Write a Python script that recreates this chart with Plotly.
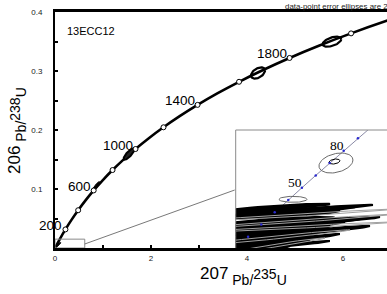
import numpy as np
import plotly.graph_objects as go

# ---------------- data ----------------
# Concordia reference curve (age in Ma, 207Pb/235U, 206Pb/238U)
conc_age = [0, 100, 200, 300, 400, 500, 600, 700, 800, 900, 1000, 1100, 1200,
            1300, 1400, 1500, 1600, 1700, 1800, 1900, 2000, 2100, 2200]
conc_r207 = [0.0, 0.10350, 0.21771, 0.34374, 0.48281, 0.63628, 0.80563, 0.99251,
             1.19873, 1.42630, 1.67741, 1.95452, 2.26030, 2.59774, 2.97009,
             3.38099, 3.83441, 4.33477, 4.88690, 5.49618, 6.16853, 6.91045, 7.72916]
conc_r206 = [0.0, 0.015633, 0.031511, 0.047637, 0.064016, 0.080650, 0.097544,
             0.114702, 0.132131, 0.149827, 0.167803, 0.186058, 0.204600, 0.223432,
             0.242560, 0.261985, 0.281716, 0.301752, 0.322100, 0.342770, 0.363760,
             0.385080, 0.406740]
marker_ages = [200, 400, 600, 800, 1000, 1200, 1400, 1600, 1800, 2000]
label_ages = [200, 600, 1000, 1400, 1800]

# Main-plot data-point error ellipses (2 sigma)
ell_r207 = [0.06, 0.85, 1.54, 4.23, 5.77]
ell_s207 = [0.06, 0.083, 0.11, 0.146, 0.194]
ell_r206 = [0.005, 0.104, 0.159, 0.2966, 0.3497]
ell_s206 = [0.0045, 0.0085, 0.0095, 0.0095, 0.0085]
ell_rho = [0.9, 0.9, 0.8, 0.45, 0.5]

# Inset concordia (Ma)
inset_age = [20, 30, 40, 50, 60, 70, 80, 90, 100, 110, 120]
inset_r207 = [0.019892, 0.029986, 0.040180, 0.050475, 0.060872, 0.071371,
              0.081975, 0.092683, 0.103497, 0.114419, 0.125446]
inset_r206 = [0.0031073, 0.0046646, 0.0062243, 0.0077864, 0.0093510, 0.010918,
              0.012487, 0.014059, 0.015633, 0.017210, 0.018789]
inset_dot_ages = [20, 30, 40, 50, 60, 70, 80, 90, 100]
inset_label_ages = [50, 80]

# Inset labelled ellipses
ins_r207 = [0.05405, 0.08677, 0.08563]
ins_s207 = [0.01065, 0.01293, 0.00418]
ins_r206 = [0.007877, 0.012492, 0.012683]
ins_s206 = [0.00038, 0.00127, 0.00032]
ins_rho = [0.0, 0.3, 0.3]

# Inset: discordant, high-error analyses
dis_r207 = [0.03279, 0.04915, 0.05942, 0.0423, 0.0366, 0.05942, 0.05181, 0.0442,
            0.05942, 0.0385, 0.048, 0.03279, 0.0404, 0.02899, 0.0366, 0.02328,
            0.03089, 0.01948, 0.03279, 0.01567,
            0.02899, 0.02518, 0.03469, 0.02138, 0.01757]
dis_s207 = [0.04945, 0.0658, 0.0761, 0.05896, 0.05325, 0.0761, 0.06847, 0.06086,
            0.0761, 0.05515, 0.06466, 0.04945, 0.05706, 0.04564, 0.05325, 0.03994,
            0.04755, 0.03614, 0.04945, 0.03233,
            0.04564, 0.04184, 0.05135, 0.03804, 0.03423]
dis_r206 = [0.006705, 0.006386, 0.005885, 0.006114, 0.005948, 0.005122, 0.004715,
            0.004766, 0.004359, 0.004442, 0.003406, 0.00399, 0.003025, 0.003114,
            0.002402, 0.002681, 0.001766, 0.002287, 0.001754, 0.001932,
            0.003775, 0.002357, 0.004989, 0.003406, 0.001658]
dis_s206 = [0.000632, 0.000793, 0.000778, 0.00085, 0.000586, 0.000903, 0.00095,
            0.00072, 0.000654, 0.000672, 0.00111, 0.00071, 0.000972, 0.000794,
            0.001085, 0.000737, 0.001207, 0.000569, 0.00084, 0.000467,
            0.000596, 0.000517, 0.000641, 0.000496, 0.000477]
dis_rho = [0.915, 0.971, 0.981, 0.927, 0.759, 0.986, 0.963, 0.848, 0.972, 0.823,
           0.973, 0.698, 0.981, 0.768, 0.984, 0.724, 0.987, 0.742, 0.983, 0.578,
           0.768, 0.676, 0.804, 0.640, 0.600]
dis_group = ['k', 'k', 'g', 'k', 'k', 'g', 'k', 'k', 'g', 'k',
             'k', 'k', 'g', 'k', 'k', 'k', 'g', 'k', 'k', 'k',
             'k', 'k', 'k', 'k', 'k']

# zoom window drawn on the main plot
zoom_box = dict(x0=0.0, x1=0.62, y0=0.0, y1=0.015)
leader = dict(x0=0.62, y0=0.0068, x1=3.744, y1=0.0983)

# ---------------- layout geometry ----------------
W, H = 387, 294
L, R, T, B = 55, 0, 12, 46
PW, PH = W - L - R, H - T - B


def px(xp):
    return (xp - L) / PW


def py(yp):
    return (H - B - yp) / PH


def ellipse(cx, sx, cy, sy, rho, n=72):
    t = np.linspace(0, 2 * np.pi, n)
    x = cx + sx * np.cos(t)
    y = cy + sy * (rho * np.cos(t) + np.sqrt(1 - rho ** 2) * np.sin(t))
    return x, y


fig = go.Figure()

# main concordia
fig.add_trace(go.Scatter(x=conc_r207, y=conc_r206, mode='lines',
                         line=dict(color='black', width=2.6, shape='spline'),
                         hoverinfo='skip'))

# main ellipses
main_fill = ['black', 'black', '#222222', None, None]
main_lw = [1, 1, 2, 2.2, 2.2]
for i in range(len(ell_r207)):
    ex, ey = ellipse(ell_r207[i], ell_s207[i], ell_r206[i], ell_s206[i], ell_rho[i])
    if main_fill[i]:
        fig.add_trace(go.Scatter(x=ex, y=ey, mode='lines', fill='toself',
                                 fillcolor=main_fill[i],
                                 line=dict(color='black', width=main_lw[i]),
                                 hoverinfo='skip'))
    else:
        fig.add_trace(go.Scatter(x=ex, y=ey, mode='lines',
                                 line=dict(color='black', width=main_lw[i]),
                                 hoverinfo='skip'))

# age markers
mx = [conc_r207[conc_age.index(a)] for a in marker_ages]
my = [conc_r206[conc_age.index(a)] for a in marker_ages]
fig.add_trace(go.Scatter(x=mx, y=my, mode='markers',
                         marker=dict(size=5, color='white',
                                     line=dict(color='black', width=1)),
                         hoverinfo='skip'))

# ---------------- inset ----------------
fig.add_trace(go.Scatter(x=inset_r207, y=inset_r206, mode='lines',
                         line=dict(color='#7d7d9c', width=0.9),
                         xaxis='x2', yaxis='y2', hoverinfo='skip'))

for i in range(len(dis_r207)):
    ex, ey = ellipse(dis_r207[i], dis_s207[i], dis_r206[i], dis_s206[i], dis_rho[i])
    if dis_group[i] == 'k':
        fig.add_trace(go.Scatter(x=ex, y=ey, mode='lines', fill='toself',
                                 fillcolor='black', line=dict(color='black', width=2),
                                 xaxis='x2', yaxis='y2', hoverinfo='skip'))
for i in range(len(dis_r207)):
    ex, ey = ellipse(dis_r207[i], dis_s207[i], dis_r206[i], dis_s206[i], dis_rho[i])
    if dis_group[i] == 'g':
        fig.add_trace(go.Scatter(x=ex, y=ey, mode='lines',
                                 line=dict(color='#a0a0a0', width=1),
                                 xaxis='x2', yaxis='y2', hoverinfo='skip'))

ins_col = ['#6a6a6a', '#6a6a6a', 'black']
for i in range(len(ins_r207)):
    ex, ey = ellipse(ins_r207[i], ins_s207[i], ins_r206[i], ins_s206[i], ins_rho[i])
    fig.add_trace(go.Scatter(x=ex, y=ey, mode='lines',
                             line=dict(color=ins_col[i], width=1),
                             xaxis='x2', yaxis='y2', hoverinfo='skip'))

dx = [inset_r207[inset_age.index(a)] for a in inset_dot_ages]
dy = [inset_r206[inset_age.index(a)] for a in inset_dot_ages]
fig.add_trace(go.Scatter(x=dx, y=dy, mode='markers',
                         marker=dict(size=2.5, color='#2a2ad0'),
                         xaxis='x2', yaxis='y2', hoverinfo='skip'))

annotations = []
for a in label_ages:
    i = conc_age.index(a)
    annotations.append(dict(x=conc_r207[i], y=conc_r206[i], xref='x', yref='y',
                            text=str(a), showarrow=False, xanchor='right',
                            yanchor='middle', xshift=-1, yshift=4,
                            font=dict(family='Liberation Sans, Arial', size=13.5,
                                      color='black')))
for a in inset_label_ages:
    i = inset_age.index(a)
    annotations.append(dict(x=inset_r207[i], y=inset_r206[i], xref='x2', yref='y2',
                            text=str(a), showarrow=False, xanchor='center',
                            yanchor='middle', xshift=7, yshift=18,
                            font=dict(family='Liberation Serif, Times New Roman',
                                      size=13.5, color='black')))

annotations += [
    dict(x=px(65), y=py(31), xref='paper', yref='paper', text='13ECC12',
         showarrow=False, xanchor='left', yanchor='middle',
         font=dict(family='Liberation Sans, Arial', size=11, color='black')),
    dict(x=px(283), y=py(6.7), xref='paper', yref='paper',
         text='data-point error ellipses are 2σ', showarrow=False,
         xanchor='left', yanchor='middle',
         font=dict(family='Liberation Sans, Arial', size=7.9, color='#222222')),
    dict(x=px(243), y=py(276), xref='paper', yref='paper',
         text='<sup><span style="font-size:17px">207</span></sup> Pb/'
              '<sup><span style="font-size:14px">235</span></sup>U',
         showarrow=False, xanchor='center', yanchor='middle',
         font=dict(family='Liberation Sans, Arial', size=14, color='black')),
    dict(x=px(17), y=py(131), xref='paper', yref='paper',
         text='<sup><span style="font-size:17px">206</span></sup> Pb/'
              '<sup><span style="font-size:14px">238</span></sup>U',
         showarrow=False, xanchor='center', yanchor='middle', textangle=-90,
         font=dict(family='Liberation Sans, Arial', size=14, color='black')),
]

ix0 = px(235.7)
shapes = [
    dict(type='rect', xref='x', yref='y', x0=zoom_box['x0'], x1=zoom_box['x1'],
         y0=zoom_box['y0'], y1=zoom_box['y1'], line=dict(color='#8a8a8a', width=1)),
    dict(type='line', xref='x', yref='y', x0=leader['x0'], y0=leader['y0'],
         x1=leader['x1'], y1=leader['y1'], line=dict(color='#555555', width=0.8)),
    dict(type='line', xref='paper', yref='paper', x0=ix0, x1=ix0, y0=0, y1=0.5,
         line=dict(color='#8a8a8a', width=1)),
    dict(type='line', xref='paper', yref='paper', x0=ix0, x1=1.01, y0=0.5, y1=0.5,
         line=dict(color='#8a8a8a', width=1)),
]

tickfont = dict(family='Liberation Sans, Arial', size=8, color='#222222')
fig.update_layout(
    width=W, height=H, margin=dict(l=L, r=R, t=T, b=B, autoexpand=False),
    paper_bgcolor='white', plot_bgcolor='white', showlegend=False,
    xaxis=dict(range=[0, PW / 48.0], showgrid=False, zeroline=False,
               showline=True, linecolor='black', linewidth=2.6, mirror=True,
               ticks='inside', ticklen=3, tickwidth=1.5, tickcolor='black',
               tickvals=[0, 2, 4, 6], ticktext=['0', '2', '4', '6'],
               minor=dict(ticks='inside', ticklen=3, tickwidth=1.5,
                          tickcolor='black', dtick=1),
               tickfont=tickfont, ticklabelstandoff=1, automargin=False),
    yaxis=dict(range=[0, 0.4], showgrid=False, zeroline=False,
               showline=True, linecolor='black', linewidth=2,
               ticks='inside', ticklen=3, tickwidth=1.5, tickcolor='black',
               tickvals=[0.1, 0.2, 0.3, 0.4], ticktext=['0.1', '0.2', '0.3', '0.4'],
               minor=dict(ticks='inside', ticklen=3, tickwidth=1.5,
                          tickcolor='black', dtick=0.05),
               tickfont=tickfont, ticklabelstandoff=9, automargin=False),
    xaxis2=dict(domain=[ix0, 1], anchor='y2', range=[0.0105, 0.1256],
                visible=False, showgrid=False, zeroline=False),
    yaxis2=dict(domain=[0, 0.5], anchor='x2', range=[0.00169, 0.01669],
                visible=False, showgrid=False, zeroline=False),
    annotations=annotations, shapes=shapes,
)

fig.write_html('out.html', config={'displayModeBar': False},
               post_script="document.body.style.margin='0';"
                           "document.body.style.overflow='hidden';")
